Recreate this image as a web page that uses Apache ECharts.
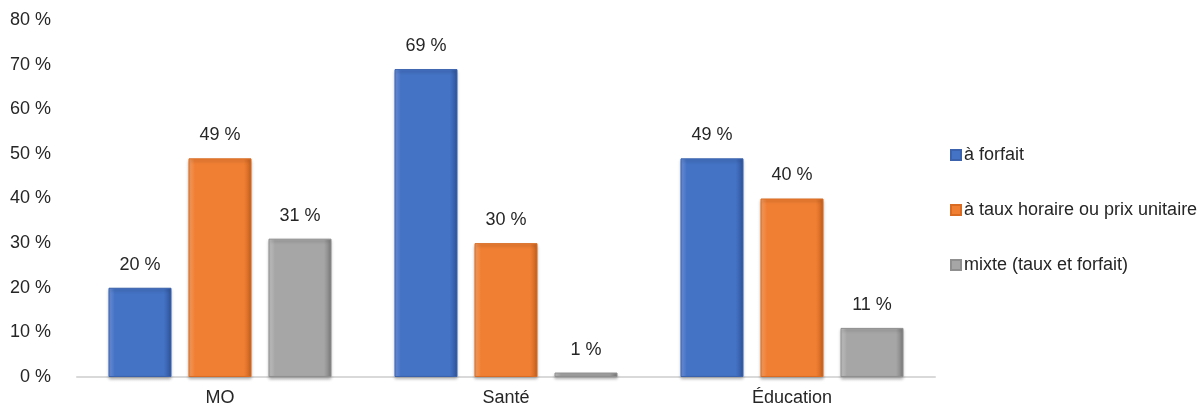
<!DOCTYPE html>
<html>
<head>
<meta charset="utf-8">
<script src="https://cdn.jsdelivr.net/npm/echarts@6/dist/echarts.min.js"></script>
<style>
html,body{margin:0;padding:0;background:#fff;}
#c{width:1204px;height:419px;}
</style>
</head>
<body>
<div id="c"></div>
<script>
var categories = ['MO', 'Santé', 'Éducation'];
var seriesNames = ['à forfait', 'à taux horaire ou prix unitaire', 'mixte (taux et forfait)'];
var forfait = [20, 69, 49];
var tauxHoraire = [49, 30, 40];
var mixte = [31, 1, 11];
var yTicks = [0, 10, 20, 30, 40, 50, 60, 70, 80];

var FONT = '"Liberation Sans Narrow", "Arial Narrow", "Liberation Sans", sans-serif';
var FS = 18;
var palettes = [
  {light: '#6f93dc', base: '#4472c4', dark: '#2f559d', border: '#3a62ad'},
  {light: '#f7a066', base: '#f07f33', dark: '#c9621d', border: '#d96c22'},
  {light: '#c4c4c4', base: '#a6a6a6', dark: '#7d7d7d', border: '#8f8f8f'}
];

function grad(p) {
  return new echarts.graphic.LinearGradient(0, 0, 1, 0, [
    {offset: 0, color: p.light},
    {offset: 0.1, color: p.base},
    {offset: 0.88, color: p.base},
    {offset: 1, color: p.dark}
  ]);
}

function mk(name, data, i) {
  return {
    name: name,
    type: 'bar',
    data: data,
    barWidth: 63,
    barGap: '27%',
    itemStyle: {
      color: grad(palettes[i]),
      borderColor: palettes[i].border,
      borderWidth: 1,
      shadowColor: 'rgba(0,0,0,0.25)',
      shadowBlur: 3,
      shadowOffsetY: 2
    },
    label: {
      show: true,
      position: 'top',
      distance: 14,
      formatter: '{c} %',
      color: '#262626',
      fontFamily: FONT,
      fontSize: FS
    }
  };
}

var chart = echarts.init(document.getElementById('c'), null, {renderer: 'canvas'});
chart.setOption({
  animation: false,
  backgroundColor: '#ffffff',
  color: ['#4472c4', '#f07f33', '#a6a6a6'],
  grid: {left: 77, right: 269, top: 20, bottom: 42, containLabel: false},
  legend: {
    orient: 'vertical',
    left: 945,
    top: 141,
    itemWidth: 10,
    itemHeight: 10,
    itemGap: 37,
    icon: 'rect',
    data: seriesNames,
    textStyle: {fontFamily: FONT, fontSize: FS, color: '#262626', padding: [0, 0, 0, -2]}
  },
  xAxis: {
    type: 'category',
    data: categories,
    axisLine: {lineStyle: {color: '#d9d9d9', width: 2}},
    axisTick: {show: false},
    axisLabel: {color: '#262626', fontFamily: FONT, fontSize: FS, margin: 12}
  },
  yAxis: {
    type: 'value',
    min: yTicks[0],
    max: yTicks[yTicks.length - 1],
    interval: 10,
    axisLine: {show: false},
    axisTick: {show: false},
    splitLine: {show: false},
    axisLabel: {color: '#262626', fontFamily: FONT, fontSize: FS, margin: 26, formatter: '{value} %'}
  },
  series: [
    mk(seriesNames[0], forfait, 0),
    mk(seriesNames[1], tauxHoraire, 1),
    mk(seriesNames[2], mixte, 2)
  ]
});
</script>
</body>
</html>
